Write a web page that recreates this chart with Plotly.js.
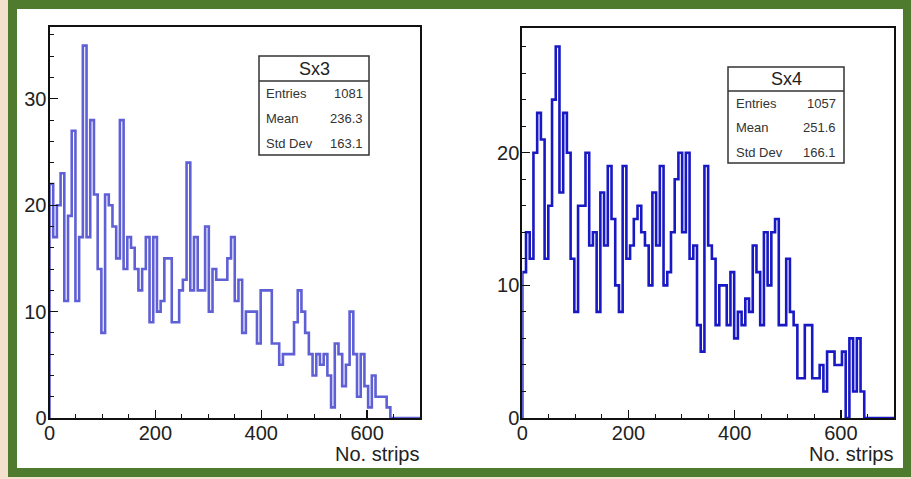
<!DOCTYPE html>
<html><head><meta charset="utf-8">
<script src="https://cdn.plot.ly/plotly-3.0.1.min.js"></script>
<style>html,body{margin:0;padding:0;background:#f3e0cf;} #chart{width:911px;height:479px;}</style>
</head><body><div id="chart"></div>
<script>
// ---- data ----
const binWidth = 7;            // 100 bins over 0..700
const sx3Counts = [
  22,17,20,23,11,19,27,11,17,35,
  17,28,21,14,8,21,20,18,15,28,
  14,17,16,14,12,14,17,9,17,10,
  11,15,15,9,9,12,13,24,12,17,
  12,12,18,10,14,13,13,13,15,17,
  11,13,8,10,10,10,7,12,12,12,
  7,7,5,6,6,6,9,12,10,8,
  6,4,6,5,6,4,1,7,6,3,
  5,10,6,2,6,3,1,4,2,2,
  2,1,0,0,0,0,0,0,0,0
];
const sx4Counts = [
  11,14,12,20,23,21,12,16,24,28,
  17,23,20,12,8,16,16,20,13,14,
  8,17,13,19,15,10,8,19,12,13,
  15,16,14,13,10,17,13,19,10,11,
  14,18,20,14,20,12,13,7,5,19,
  13,12,7,10,10,7,11,6,8,7,
  9,8,13,11,7,14,10,14,15,7,
  7,12,8,7,3,3,7,7,3,3,
  4,2,5,5,4,4,5,0,6,2,
  6,2,0,0,0,0,0,0,0,0
];
const xTickVals = [0, 200, 400, 600];
const xTickText = ["0", "200", "400", "600"];
const sx3YTicks = [0, 10, 20, 30];
const sx4YTicks = [0, 10, 20];
const statLabels = ["Entries", "Mean", "Std Dev"];
const sx3Stats = ["1081", "236.3", "163.1"];
const sx4Stats = ["1057", "251.6", "166.1"];
const histNames = ["Sx3", "Sx4"];
const xTitle = "No. strips";

// ---- helpers ----
const W = 911, H = 479;
const fx = p => p / W;
const fy = p => 1 - p / H;

function stepXY(counts) {
  const xs = [0], ys = [0];
  counts.forEach((c, i) => { xs.push(i * binWidth); ys.push(c); });
  xs.push(counts.length * binWidth); ys.push(counts[counts.length - 1]);
  return {xs, ys};
}

const s3 = stepXY(sx3Counts), s4 = stepXY(sx4Counts);

const traces = [
  {x: s3.xs, y: s3.ys, type: 'scatter', mode: 'lines', line: {shape: 'hv', color: '#5f5fd6', width: 2.6},
   xaxis: 'x', yaxis: 'y', hoverinfo: 'skip', showlegend: false},
  {x: s4.xs, y: s4.ys, type: 'scatter', mode: 'lines', line: {shape: 'hv', color: '#1818c4', width: 2.6},
   xaxis: 'x2', yaxis: 'y2', hoverinfo: 'skip', showlegend: false}
];

const tickFont = {family: 'Liberation Sans, Arial, sans-serif', size: 20, color: '#222'};
function xAxis(domain, anchor) {
  return {domain, anchor, range: [0, 700], tickmode: 'array', tickvals: xTickVals, ticktext: xTickText,
    ticks: 'inside', ticklen: 8, tickwidth: 1.2, tickcolor: '#111', ticklabelstandoff: -4,
    minor: {ticks: 'inside', ticklen: 4, tickwidth: 1, tickcolor: '#111', dtick: 50, tick0: 0},
    showline: true, linewidth: 2, linecolor: '#111', mirror: true,
    showgrid: false, zeroline: false, tickfont: tickFont, fixedrange: true};
}
function yAxis(domain, anchor, top, tv) {
  return {domain, anchor, range: [0, top], tickmode: 'array', tickvals: tv, ticktext: tv.map(String),
    ticks: 'inside', ticklen: 8, tickwidth: 1.2, tickcolor: '#111', ticklabelstandoff: -3,
    minor: {ticks: 'inside', ticklen: 4, tickwidth: 1, tickcolor: '#111', dtick: 2, tick0: 0},
    showline: true, linewidth: 2, linecolor: '#111', mirror: true,
    showgrid: false, zeroline: false, tickfont: tickFont, fixedrange: true};
}

const boxes = [
  {x0: 259, x1: 369, y0: 56, y1: 155, sep: 81, titleX: 314, titleY: 69, labX: 264, valX: 365, rows: [93, 118, 143],
   name: histNames[0], vals: sx3Stats},
  {x0: 728, x1: 844, y0: 67, y1: 163, sep: 91, titleX: 786, titleY: 79, labX: 734, valX: 838, rows: [103, 128, 152],
   name: histNames[1], vals: sx4Stats}
];

const shapes = [
  {type: 'rect', xref: 'paper', yref: 'paper', x0: fx(12.5), x1: fx(907.5), y0: fy(472.5), y1: fy(4.5),
   line: {color: '#4e7b2d', width: 9}, fillcolor: '#ffffff', layer: 'below'}
];
const annotations = [];
const statFont = {family: 'Liberation Sans, Arial, sans-serif', size: 13, color: '#333'};
boxes.forEach(b => {
  shapes.push({type: 'rect', xref: 'paper', yref: 'paper', x0: fx(b.x0), x1: fx(b.x1), y0: fy(b.y1), y1: fy(b.y0),
    line: {color: '#333', width: 1.5}, fillcolor: '#ffffff', layer: 'above'});
  shapes.push({type: 'line', xref: 'paper', yref: 'paper', x0: fx(b.x0), x1: fx(b.x1), y0: fy(b.sep), y1: fy(b.sep),
    line: {color: '#333', width: 1.5}, layer: 'above'});
  annotations.push({xref: 'paper', yref: 'paper', x: fx(b.titleX), y: fy(b.titleY), text: b.name, showarrow: false,
    xanchor: 'center', yanchor: 'middle', font: {family: 'Liberation Sans, Arial, sans-serif', size: 18, color: '#222'}});
  statLabels.forEach((lab, i) => {
    annotations.push({xref: 'paper', yref: 'paper', x: fx(b.labX), y: fy(b.rows[i]), text: lab, showarrow: false,
      xanchor: 'left', yanchor: 'middle', font: statFont});
    annotations.push({xref: 'paper', yref: 'paper', x: fx(b.valX), y: fy(b.rows[i]), text: b.vals[i], showarrow: false,
      xanchor: 'right', yanchor: 'middle', font: statFont});
  });
});
[[421, 454], [895, 454]].forEach(p => {
  annotations.push({xref: 'paper', yref: 'paper', x: fx(p[0]), y: fy(p[1]), text: xTitle, showarrow: false,
    xanchor: 'right', yanchor: 'middle', font: {family: 'Liberation Sans, Arial, sans-serif', size: 20, color: '#222'}});
});

const layout = {
  width: W, height: H, margin: {l: 0, r: 0, t: 0, b: 0, pad: 0},
  paper_bgcolor: '#f3e0cf', plot_bgcolor: '#ffffff', showlegend: false,
  xaxis: xAxis([fx(49.5), fx(420)], 'y'),
  yaxis: yAxis([fy(418), fy(27)], 'x', 36.75, sx3YTicks),
  xaxis2: xAxis([fx(522.3), fx(894)], 'y2'),
  yaxis2: yAxis([fy(418), fy(28)], 'x2', 29.4, sx4YTicks),
  shapes, annotations
};

Plotly.newPlot('chart', traces, layout, {displayModeBar: false, staticPlot: true});
</script></body></html>
